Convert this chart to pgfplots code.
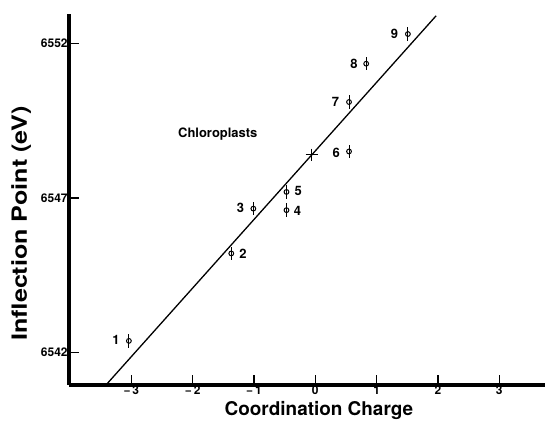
\documentclass[border=0pt]{standalone}
\usepackage{pgfplots}
\pgfplotsset{compat=1.18}
\usepackage{fontspec}
\setmainfont{TeX Gyre Heros}
\begin{document}
\begin{tikzpicture}
\begin{axis}[
  scale only axis,
  width=478pt, height=372pt,
  xmin=-4.02, xmax=3.75,
  ymin=6540.95, ymax=6552.95,
  axis lines=left,
  axis line style={-, line width=3.5pt},
  xtick={-3,-2,-1,0,1,2,3},
  xticklabels={{−\,3},{−\,2},{−\,1},0,1,2,3},
  ytick={6542,6547,6552},
  yticklabels={6542,6547,6552},
  tick align=inside,
  major tick length=10pt,
  tick style={line width=1.4pt, black},
  /pgf/number format/assume math mode=true,
  xticklabel style={font=\fontsize{12}{14}\selectfont\bfseries, inner sep=1pt},
  yticklabel style={font=\fontsize{12}{14}\selectfont\bfseries, inner sep=1pt},
  xlabel={Coordination Charge},
  ylabel={\scalebox{1.2}[1]{Inflection Point (eV)}},
  xlabel style={font=\fontsize{19}{22}\selectfont\bfseries, at={(rel axis cs:0.525,-0.069)}, anchor=center},
  ylabel style={font=\fontsize{21}{24}\selectfont\bfseries, at={(rel axis cs:-0.1,0.435)}, anchor=center},
  clip=true,
]
\addplot[no marks, line width=1.3pt] coordinates {(-3.41,6540.95) (1.97,6552.89)};
\addplot[only marks, mark=o, mark size=2.4pt, line width=1pt,
  mark options={fill=white},
  error bars/.cd, y dir=both, y fixed=0.22, error mark=none,
  error bar style={line width=1pt}]
  coordinates {
  (-3.04,6542.37) (-1.37,6545.2) (-1.01,6546.65) (-0.47,6546.6) (-0.47,6547.19)
  (0.55,6548.5) (0.55,6550.1) (0.83,6551.34) (1.51,6552.3)};
\addplot[only marks, mark=+, mark size=6pt, line width=1.3pt] coordinates {(-0.06,6548.4)};
\begin{scope}[every node/.style={font=\fontsize{13}{15}\selectfont\bfseries, inner sep=0pt}]
\node at (axis cs:-3.25,6542.4) {1};
\node at (axis cs:-1.18,6545.2) {2};
\node at (axis cs:-1.22,6546.67) {3};
\node at (axis cs:-0.29,6546.58) {4};
\node at (axis cs:-0.28,6547.22) {5};
\node at (axis cs:0.34,6548.45) {6};
\node at (axis cs:0.33,6550.1) {7};
\node at (axis cs:0.63,6551.33) {8};
\node at (axis cs:1.29,6552.3) {9};
\node at (axis cs:-1.59,6549.07) {Chloroplasts};
\end{scope}
\end{axis}
\path ([xshift=-69pt,yshift=-38pt]current axis.south west) rectangle ([yshift=14pt]current axis.north east);
\end{tikzpicture}
\end{document}
